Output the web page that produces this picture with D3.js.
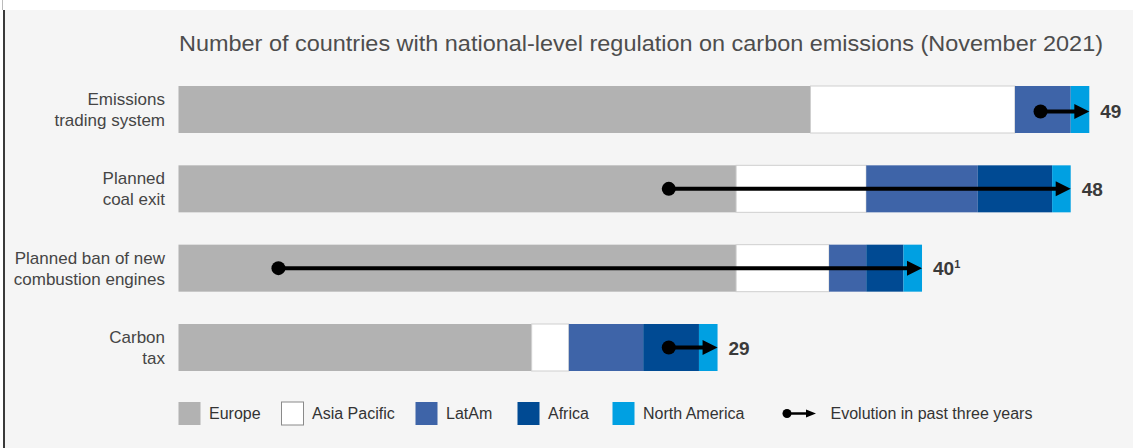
<!DOCTYPE html>
<html>
<head>
<meta charset="utf-8">
<script src="https://cdn.jsdelivr.net/npm/d3@7"></script>
<style>
  html, body { margin: 0; padding: 0; background: #ffffff; }
  svg { display: block; font-family: "Liberation Sans", Arial, Helvetica, sans-serif; }
</style>
</head>
<body>
<svg id="chart" width="1135" height="448"></svg>
<script>
// Categories (top to bottom) and two-line labels
const categories = ["ets", "coal", "engines", "tax"];
const categoryLines = [
  ["Emissions", "trading system"],
  ["Planned", "coal exit"],
  ["Planned ban of new", "combustion engines"],
  ["Carbon", "tax"]
];

// Regions stacked left to right, number of countries per category
const regions = ["Europe", "Asia Pacific", "LatAm", "Africa", "North America"];
const europe       = [34, 30, 30, 19];
const asiaPacific  = [11,  7,  5,  2];
const latAm        = [ 3,  6,  2,  4];
const africa       = [ 0,  4,  2,  3];
const northAmerica = [ 1,  1,  1,  1];

// Evolution over the past three years: starting count -> current total
const evolutionStart = [46, 26, 5, 26];
const totals = [49, 48, 40, 29];
const totalLabels = ["49", "48", "40", "29"];
const totalNotes = ["", "", "1", ""];

const title = "Number of countries with national-level regulation on carbon emissions (November 2021)";
const evolutionLabel = "Evolution in past three years";

const regionColors = ["#b2b2b2", "#ffffff", "#3e64a8", "#004a93", "#00a0e2"];

const svg = d3.select("#chart");

// Panel background and left rule
svg.append("rect").attr("x", 5).attr("y", 10).attr("width", 1128).attr("height", 438).attr("fill", "#f5f5f5");
svg.append("rect").attr("x", 2).attr("y", 0).attr("width", 1).attr("height", 10).attr("fill", "#bbbbbb");
svg.append("rect").attr("x", 3).attr("y", 10).attr("width", 2).attr("height", 438).attr("fill", "#3a3a3a");

const x = d3.scaleLinear().domain([0, 49]).range([178.5, 1089.3]);
const y = d3.scaleBand().domain(categories).range([86, 371]).paddingInner(0.4076).paddingOuter(0);

// Title
svg.append("text")
  .attr("x", 179).attr("y", 51)
  .attr("font-size", 22.5)
  .attr("fill", "#4d4d4d")
  .attr("textLength", 924)
  .attr("lengthAdjust", "spacingAndGlyphs")
  .text(title);

// Stacked data
const table = categories.map((c, i) => ({
  key: c,
  "Europe": europe[i],
  "Asia Pacific": asiaPacific[i],
  "LatAm": latAm[i],
  "Africa": africa[i],
  "North America": northAmerica[i]
}));
const series = d3.stack().keys(regions)(table);
const color = d3.scaleOrdinal().domain(regions).range(regionColors);

const layers = svg.append("g").selectAll("g")
  .data(series).join("g")
  .attr("fill", d => color(d.key));

layers.selectAll("rect")
  .data(d => d.map(v => ({ v, key: d.key })))
  .join("rect")
  .filter(d => d.v[1] - d.v[0] > 0)
  .attr("x", d => x(d.v[0]))
  .attr("y", d => y(d.v.data.key))
  .attr("width", d => x(d.v[1]) - x(d.v[0]))
  .attr("height", y.bandwidth())
  .attr("stroke", d => d.key === "Asia Pacific" ? "#cfcfcf" : "none")
  .attr("stroke-width", 1);

// Category labels (right aligned)
const catG = svg.append("g");
categories.forEach((c, i) => {
  const cy = y(c) + y.bandwidth() / 2;
  const t = catG.append("text")
    .attr("text-anchor", "end")
    .attr("font-size", 17)
    .attr("fill", "#454545");
  t.append("tspan").attr("x", 165).attr("y", cy - 4.5).text(categoryLines[i][0]);
  t.append("tspan").attr("x", 165).attr("y", cy + 16.5).text(categoryLines[i][1]);
});

// Evolution arrows
const dotR = 7;
const arrowG = svg.append("g");
categories.forEach((c, i) => {
  const cy = y(c) + y.bandwidth() / 2 + (i === 0 ? 2 : 0);
  const x0 = x(evolutionStart[i]) + dotR;
  const x1 = x(totals[i]);
  const headW = 15, headH = 15;
  arrowG.append("line")
    .attr("x1", x0).attr("x2", x1 - headW + 1)
    .attr("y1", cy).attr("y2", cy)
    .attr("stroke", "#000").attr("stroke-width", 4);
  arrowG.append("circle").attr("cx", x0).attr("cy", cy).attr("r", dotR).attr("fill", "#000");
  arrowG.append("path")
    .attr("d", `M${x1},${cy} L${x1 - headW},${cy - headH / 2} L${x1 - headW},${cy + headH / 2} Z`)
    .attr("fill", "#000");
  const lbl = arrowG.append("text")
    .attr("x", x1 + 11).attr("y", cy + 7)
    .attr("font-size", 19).attr("font-weight", "bold")
    .attr("fill", "#3a3a3a")
    .text(totalLabels[i]);
  if (totalNotes[i]) {
    lbl.append("tspan").attr("dy", -7).attr("font-size", 11).text(totalNotes[i]);
  }
});

// Legend
const legendX = [178, 281, 415, 517, 612];
const legend = svg.append("g");
regions.forEach((r, i) => {
  legend.append("rect")
    .attr("x", legendX[i] + 0.5).attr("y", 402)
    .attr("width", 22).attr("height", 23)
    .attr("fill", color(r))
    .attr("stroke", r === "Asia Pacific" ? "#8a8a8a" : "none")
    .attr("stroke-width", 1);
  legend.append("text")
    .attr("x", legendX[i] + 31).attr("y", 419)
    .attr("font-size", 16)
    .attr("fill", "#333")
    .text(r);
});

// Legend entry for the evolution arrow
const ly = 413.5;
legend.append("line").attr("x1", 787).attr("x2", 808).attr("y1", ly).attr("y2", ly)
  .attr("stroke", "#000").attr("stroke-width", 2.5);
legend.append("circle").attr("cx", 787).attr("cy", ly).attr("r", 4.5).attr("fill", "#000");
legend.append("path").attr("d", `M816,${ly} L806,${ly - 4} L806,${ly + 4} Z`).attr("fill", "#000");
legend.append("text")
  .attr("x", 830.5).attr("y", 419)
  .attr("font-size", 16)
  .attr("fill", "#333")
  .text(evolutionLabel);
</script>
</body>
</html>
